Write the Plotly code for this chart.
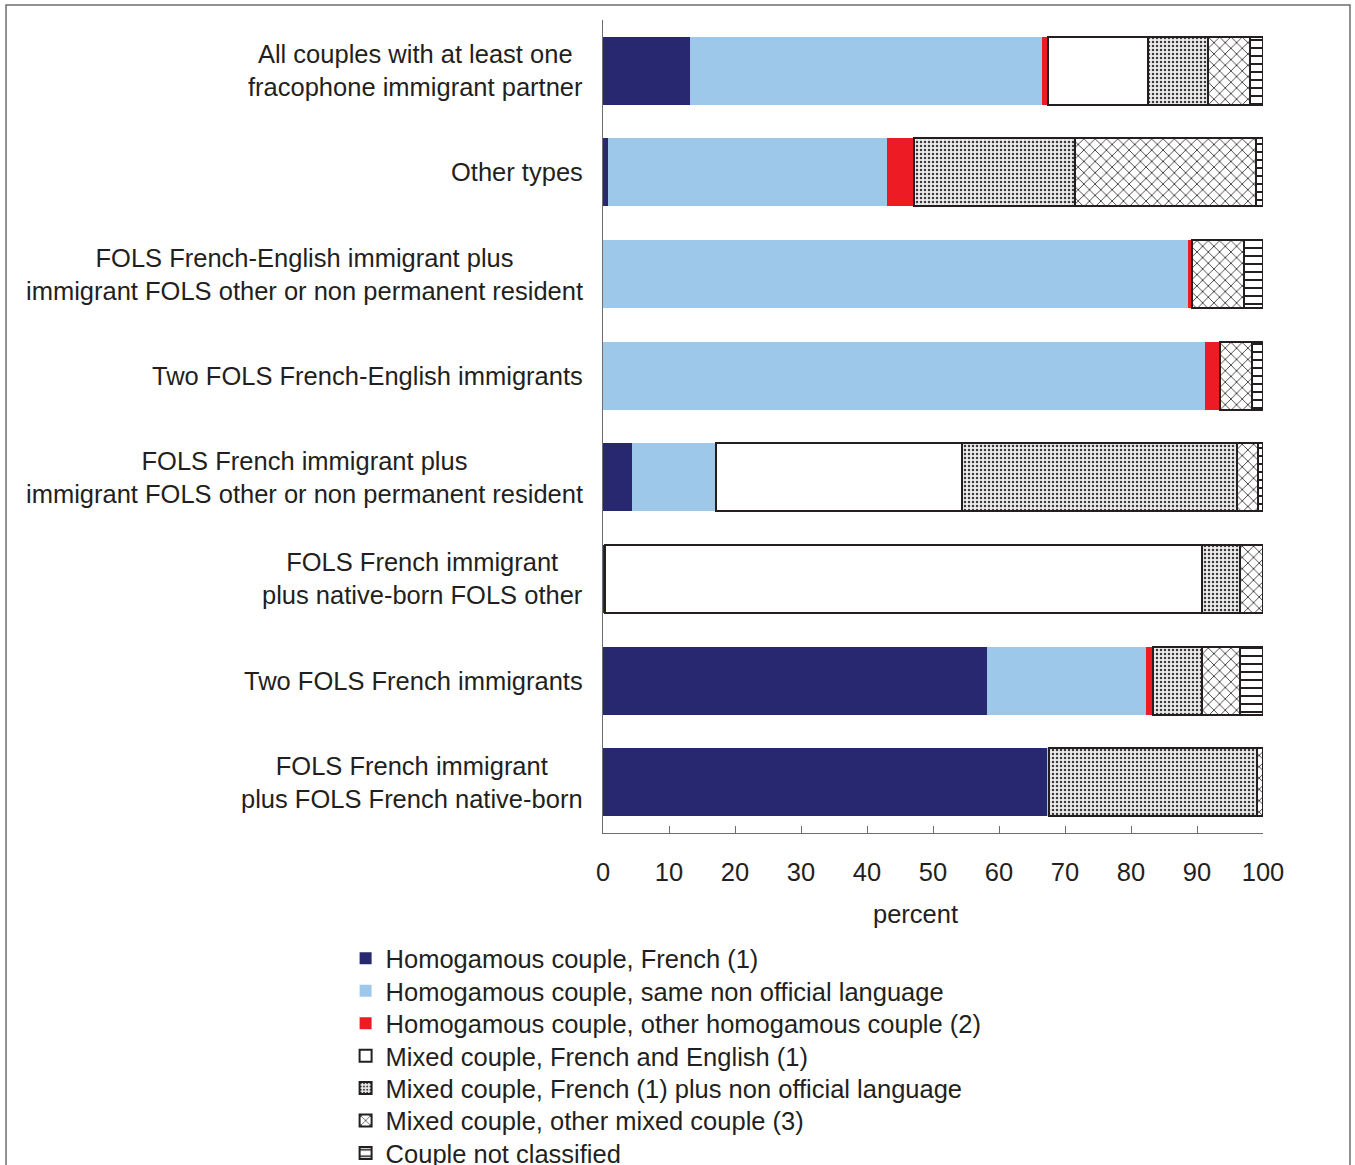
import plotly.graph_objects as go

# Couple types, listed top to bottom
categories = [
    "All couples with at least one<br>fracophone immigrant partner",
    "Other types",
    "FOLS French-English immigrant plus<br>immigrant FOLS other or non permanent resident",
    "Two FOLS French-English immigrants",
    "FOLS French immigrant plus<br>immigrant FOLS other or non permanent resident",
    "FOLS French immigrant<br>plus native-born FOLS other",
    "Two FOLS French immigrants",
    "FOLS French immigrant<br>plus FOLS French native-born",
]

# Percent shares per couple type (same order as categories)
homog_french = [13.2, 0.8, 0.0, 0.0, 4.4, 0.3, 58.2, 67.3]
homog_nonofficial = [53.3, 42.3, 88.7, 91.2, 12.7, 0.0, 24.0, 0.2]
homog_other = [0.9, 4.0, 0.6, 2.3, 0.0, 0.0, 1.1, 0.0]
mixed_fr_en = [15.2, 0.0, 0.0, 0.0, 37.3, 90.4, 0.0, 0.0]
mixed_fr_nonofficial = [9.1, 24.4, 0.0, 0.0, 41.7, 5.8, 7.5, 31.6]
mixed_other = [6.4, 27.4, 7.8, 4.9, 3.2, 3.5, 5.7, 0.9]
not_classified = [1.9, 1.1, 2.9, 1.6, 0.7, 0.0, 3.5, 0.0]

series_names = [
    "Homogamous couple, French (1)",
    "Homogamous couple, same non official language",
    "Homogamous couple, other homogamous couple (2)",
    "Mixed couple, French and English (1)",
    "Mixed couple, French (1) plus non official language",
    "Mixed couple, other mixed couple (3)",
    "Couple not classified",
]

x_ticks = [0, 10, 20, 30, 40, 50, 60, 70, 80, 90, 100]

INK = "#231f20"
OUTLINE = dict(color="#231f20", width=2)
NOLINE = dict(color="rgba(0,0,0,0)", width=0)

styles = [
    dict(color="#272870", line=NOLINE),
    dict(color="#9ec8ea", line=NOLINE),
    dict(color="#ed1c24", line=NOLINE),
    dict(color="white", line=OUTLINE),
    dict(color="white", line=OUTLINE,
         pattern=dict(shape=".", fgcolor="#3a3a3a", bgcolor="#ededed",
                      size=4, solidity=0.3, fillmode="replace")),
    dict(color="white", line=OUTLINE,
         pattern=dict(shape="x", fgcolor="#2a2a2a", bgcolor="white",
                      size=8, solidity=0.2, fillmode="replace")),
    dict(color="white", line=OUTLINE,
         pattern=dict(shape="-", fgcolor="#231f20", bgcolor="white",
                      size=8, solidity=0.25, fillmode="replace")),
]

series_values = [homog_french, homog_nonofficial, homog_other, mixed_fr_en,
                 mixed_fr_nonofficial, mixed_other, not_classified]

FONT = "Arial, Liberation Sans, sans-serif"
FS = 25.5

# one single-entry legend per series so the rows can be spaced evenly
legend_ids = ["legend"] + [f"legend{i}" for i in range(2, len(series_names) + 1)]

fig = go.Figure()
for name, vals, st, lid in zip(series_names, series_values, styles, legend_ids):
    fig.add_trace(go.Bar(
        x=vals, y=categories, orientation="h", name=name,
        marker=st, hoverinfo="x+name", legend=lid,
    ))

# Category labels drawn as centered multi-line text to the left of the axis
annotations = [
    dict(text=c, x=-0.027, y=c, xref="paper", yref="y", xanchor="right",
         yanchor="middle", align="center", showarrow=False,
         font=dict(family=FONT, size=FS, color=INK))
    for c in categories
]
annotations.append(dict(text="percent", x=0.473, y=-0.1, xref="paper", yref="paper",
                        xanchor="center", yanchor="middle", showarrow=False,
                        font=dict(family=FONT, size=FS, color=INK)))

LEG_TOP = -0.1258
LEG_STEP = 0.0399
legends = {}
for i, lid in enumerate(legend_ids):
    legends[lid] = dict(x=-0.39, y=LEG_TOP - i * LEG_STEP, xanchor="left", yanchor="top",
                        font=dict(family=FONT, size=FS, color=INK),
                        bgcolor="rgba(0,0,0,0)", itemwidth=30)

fig.update_layout(
    width=1355, height=1165,
    margin=dict(l=603, r=92, t=20, b=332, autoexpand=False),
    barmode="stack", bargap=0.33,
    paper_bgcolor="white", plot_bgcolor="white",
    font=dict(family=FONT, size=FS, color=INK),
    showlegend=True,
    annotations=annotations,
    shapes=[dict(type="rect", xref="paper", yref="paper",
                 x0=-0.9045, x1=1.1318, y0=-0.42, y1=1.0185,
                 line=dict(color="#6d6e71", width=1.5), fillcolor="rgba(0,0,0,0)",
                 layer="below")],
    **legends,
)

fig.update_xaxes(
    range=[0, 100], tickvals=x_ticks, ticks="inside", ticklen=7, tickcolor="#6d6e71",
    showline=True, linecolor="#6d6e71", linewidth=1, showgrid=False, zeroline=False,
    tickfont=dict(family=FONT, size=FS, color=INK), ticklabelstandoff=16,
    fixedrange=True,
)
fig.update_yaxes(
    categoryorder="array", categoryarray=categories, autorange="reversed",
    showticklabels=False, ticks="", showline=True, linecolor="#6d6e71", linewidth=1,
    showgrid=False, zeroline=False, fixedrange=True,
)

fig.write_html("out.html")
